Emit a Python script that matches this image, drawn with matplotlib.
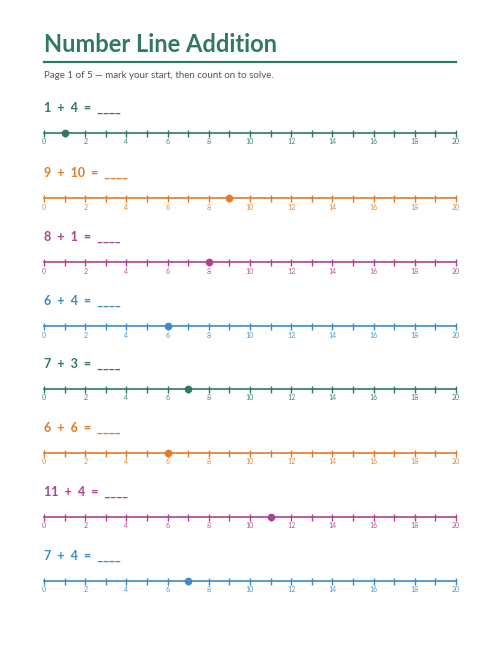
import matplotlib
matplotlib.use("Agg")
import matplotlib.pyplot as plt

starts = [1, 9, 8, 6, 7, 6, 11, 7]
addends = [4, 10, 1, 4, 3, 6, 4, 4]
colors = ["#2e7a5c", "#e07b2a", "#b0428c", "#3c8cc8"] * 2
tick_vals = list(range(0, 21))
label_vals = list(range(0, 21, 2))
line_y = [133, 198, 262, 326, 389, 453, 517, 581]

W, H = 500, 648
fig = plt.figure(figsize=(5, 6.48), dpi=100)
fig.patch.set_facecolor("white")
plt.rcParams["font.family"] = ["Lato", "DejaVu Sans"]

fig.text(44/W, 1-44/H, "Number Line Addition", fontsize=17, fontweight="bold",
         color="#2e7a5c", va="center", ha="left")
fig.add_artist(plt.Line2D([44/W, 456/W], [1-62/H, 1-62/H], color="#2e7a5c", lw=1.6))
fig.text(44/W, 1-76/H, "Page 1 of 5 — mark your start, then count on to solve.",
         fontsize=7, color="#555555", va="center", ha="left")

left, right = 44/W, 456/W
for i, (s, a) in enumerate(zip(starts, addends)):
    c = colors[i]
    y = line_y[i]
    ax = fig.add_axes([left, 1-(y+12)/H, right-left, 40/H])
    ax.set_xlim(0, 20)
    ax.set_ylim(-12, 28)
    ax.axis("off")
    ax.plot([0, 20], [0, 0], color=c, lw=1.2, clip_on=False)
    ax.vlines(tick_vals, -3.5, 3.5, color=c, lw=1, clip_on=False)
    for v in label_vals:
        ax.text(v, -9, str(v), fontsize=5, color=c, ha="center", va="center", alpha=0.9)
    ax.plot([s], [0], "o", color=c, ms=4.5, clip_on=False)
    ax.text(0, 25, f"{s}  +  {a}  =  ____", fontsize=9, fontweight="bold", color=c,
            ha="left", va="center")

fig.savefig("out.png", dpi=100, facecolor="white")
